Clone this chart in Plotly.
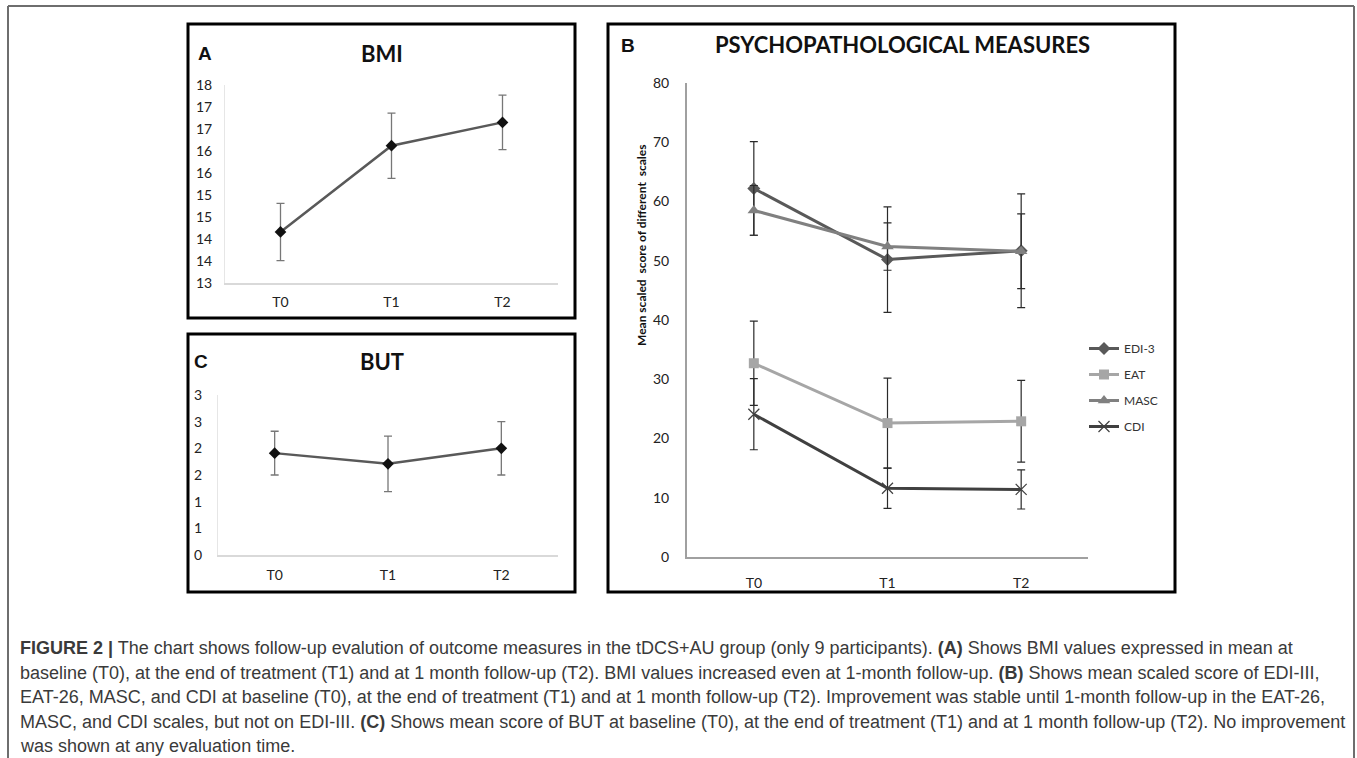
import plotly.graph_objects as go

W, H = 1357, 758

# ---------------- data ----------------
times = ["T0", "T1", "T2"]

bmi_mean = [14.16, 16.12, 16.65]
bmi_err = [0.65, 0.74, 0.62]
bmi_tickvals = [13, 13.5, 14, 14.5, 15, 15.5, 16, 16.5, 17, 17.5]
bmi_ticktext = ["13", "14", "14", "15", "15", "16", "16", "17", "17", "18"]

but_mean = [1.91, 1.71, 2.00]
but_err = [0.41, 0.52, 0.50]
but_tickvals = [0, 0.5, 1, 1.5, 2, 2.5, 3]
but_ticktext = ["0", "1", "1", "2", "2", "3", "3"]

psy_series = ["EDI-3", "EAT", "MASC", "CDI"]
edi_mean = [62.2, 50.2, 51.7]
edi_err = [7.9, 8.9, 9.6]
eat_mean = [32.7, 22.6, 22.9]
eat_err = [7.1, 7.6, 6.9]
masc_mean = [58.5, 52.4, 51.6]
masc_err = [4.2, 4.0, 6.3]
cdi_mean = [24.1, 11.6, 11.4]
cdi_err = [6.0, 3.4, 3.3]
psy_tickvals = [0, 10, 20, 30, 40, 50, 60, 70, 80]

caption_lines = [
    "<b>FIGURE 2 |</b> The chart shows follow-up evalution of outcome measures in the tDCS+AU group (only 9 participants). <b>(A)</b> Shows BMI values expressed in mean at",
    "baseline (T0), at the end of treatment (T1) and at 1 month follow-up (T2). BMI values increased even at 1-month follow-up. <b>(B)</b> Shows mean scaled score of EDI-III,",
    "EAT-26, MASC, and CDI at baseline (T0), at the end of treatment (T1) and at 1 month follow-up (T2). Improvement was stable until 1-month follow-up in the EAT-26,",
    "MASC, and CDI scales, but not on EDI-III. <b>(C)</b> Shows mean score of BUT at baseline (T0), at the end of treatment (T1) and at 1 month follow-up (T2). No improvement",
    "was shown at any evaluation time.",
]


def px(x):
    return x / W


def py(y):
    return 1 - y / H


TICKFONT = dict(family="Lato, Open Sans, sans-serif", size=14, color="#222")

fig = go.Figure()

# ---- panel A (BMI)
fig.add_trace(go.Scatter(
    x=times, y=bmi_mean, xaxis="x", yaxis="y", mode="lines+markers",
    line=dict(color="#595959", width=2.5),
    marker=dict(symbol="diamond", size=9, color="#111"),
    error_y=dict(type="data", array=bmi_err, color="#777", thickness=1.3, width=4),
    showlegend=False))

# ---- panel C (BUT)
fig.add_trace(go.Scatter(
    x=times, y=but_mean, xaxis="x3", yaxis="y3", mode="lines+markers",
    line=dict(color="#595959", width=2.5),
    marker=dict(symbol="diamond", size=9, color="#111"),
    error_y=dict(type="data", array=but_err, color="#777", thickness=1.3, width=4),
    showlegend=False))

# ---- panel B (psychopathological)
psy_means = [edi_mean, eat_mean, masc_mean, cdi_mean]
psy_errs = [edi_err, eat_err, masc_err, cdi_err]
psy_colors = ["#595959", "#a6a6a6", "#808080", "#404040"]
psy_markers = [
    dict(symbol="diamond", size=10, color="#595959"),
    dict(symbol="square", size=10, color="#a6a6a6"),
    dict(symbol="triangle-up", size=11, color="#808080"),
    dict(symbol="x-thin-open", size=11, color="#404040", line=dict(color="#404040", width=1.2)),
]
for name, m, e, c, mk in zip(psy_series, psy_means, psy_errs, psy_colors, psy_markers):
    fig.add_trace(go.Scatter(
        x=times, y=m, xaxis="x2", yaxis="y2", mode="lines+markers", name=name,
        legendgroup=name,
        line=dict(color=c, width=3),
        marker=mk,
        error_y=dict(type="data", array=e, color="#2a2a2a", thickness=1.2, width=4)))

axis_common = dict(type="category", range=[-0.5, 2.5], showgrid=False, zeroline=False,
                   ticks="", tickfont=TICKFONT, fixedrange=True, automargin=False)
yaxis_common = dict(showgrid=False, zeroline=False, ticks="", tickfont=TICKFONT,
                    fixedrange=True, automargin=False)

fig.update_layout(
    width=W, height=H, autosize=False,
    margin=dict(l=0, r=0, t=0, b=0, pad=0, autoexpand=False),
    paper_bgcolor="white", plot_bgcolor="white",
    # A
    xaxis=dict(domain=[px(225), px(558)], anchor="y", showline=True, linecolor="#d9d9d9",
               linewidth=1.5, ticklabelstandoff=5, **axis_common),
    yaxis=dict(domain=[py(283), py(85)], anchor="x", range=[13, 17.5],
               tickvals=bmi_tickvals, ticktext=bmi_ticktext, showline=True,
               linecolor="#e6e6e6", linewidth=1, ticklabelstandoff=9, **yaxis_common),
    # B
    xaxis2=dict(domain=[px(687), px(1088)], anchor="y2", showline=True, linecolor="#a0a0a0",
                linewidth=2, ticklabelstandoff=12, **axis_common),
    yaxis2=dict(domain=[py(557), py(83)], anchor="x2", range=[0, 80],
                tickvals=psy_tickvals, showline=True, linecolor="#a0a0a0", linewidth=2,
                ticklabelstandoff=13, **yaxis_common),
    # C
    xaxis3=dict(domain=[px(218), px(558)], anchor="y3", showline=True, linecolor="#d9d9d9",
                linewidth=1.5, ticklabelstandoff=6, **axis_common),
    yaxis3=dict(domain=[py(555), py(395)], anchor="x3", range=[0, 3],
                tickvals=but_tickvals, ticktext=but_ticktext, showline=True,
                linecolor="#e6e6e6", linewidth=1, ticklabelstandoff=12, **yaxis_common),
    legend=dict(x=px(1084), y=py(334), xanchor="left", yanchor="top",
                font=dict(family="Lato, Open Sans, sans-serif", size=12, color="#333"),
                traceorder="grouped", tracegroupgap=7, itemwidth=30,
                bgcolor="rgba(0,0,0,0)"),
)

# ---- frames
shapes = [
    # outer gray frame (left, top, right)
    dict(type="line", xref="paper", yref="paper", x0=px(8), x1=px(8), y0=py(6), y1=py(760),
         line=dict(color="#6e6e6e", width=2)),
    dict(type="line", xref="paper", yref="paper", x0=px(8), x1=px(1354), y0=py(6), y1=py(6),
         line=dict(color="#6e6e6e", width=2)),
    dict(type="line", xref="paper", yref="paper", x0=px(1354), x1=px(1354), y0=py(6), y1=py(760),
         line=dict(color="#6e6e6e", width=2)),
    # panel boxes
    dict(type="rect", xref="paper", yref="paper", x0=px(188), x1=px(575), y0=py(318), y1=py(24),
         line=dict(color="black", width=3)),
    dict(type="rect", xref="paper", yref="paper", x0=px(188), x1=px(575), y0=py(592), y1=py(334),
         line=dict(color="black", width=3)),
    dict(type="rect", xref="paper", yref="paper", x0=px(608), x1=px(1175), y0=py(592), y1=py(24),
         line=dict(color="black", width=3)),
]
fig.update_layout(shapes=shapes)

TITLEFONT = "Lato, Open Sans, sans-serif"
ann = []


def add_text(x, y, text, size, family=TITLEFONT, color="#111", xanchor="center", angle=0):
    ann.append(dict(x=px(x), y=py(y), xref="paper", yref="paper", text=text, showarrow=False,
                    xanchor=xanchor, yanchor="middle", textangle=angle,
                    font=dict(family=family, size=size, color=color)))


add_text(205, 53, "<b>A</b>", 19, family="Liberation Sans, Arial, sans-serif")
add_text(382, 53, "<b>BMI</b>", 22)
add_text(201, 362, "<b>C</b>", 19, family="Liberation Sans, Arial, sans-serif")
add_text(382, 362, "<b>BUT</b>", 22)
add_text(628, 45, "<b>B</b>", 19, family="Liberation Sans, Arial, sans-serif")
add_text(902, 44, "<b>PSYCHOPATHOLOGICAL MEASURES</b>", 22)
add_text(641, 245, "<b>Mean scaled  score of different  scales</b>", 12, angle=-90)

cap_y = [648, 673, 697, 722, 746]
for t, yy in zip(caption_lines, cap_y):
    add_text(18, yy, t, 18, family="Liberation Sans, Arial, sans-serif", color="#3a3a3a",
             xanchor="left")

fig.update_layout(annotations=ann)

fig.write_html("out.html", config={"displayModeBar": False},
               post_script="document.body.style.margin='0';document.body.style.overflow='hidden';")
